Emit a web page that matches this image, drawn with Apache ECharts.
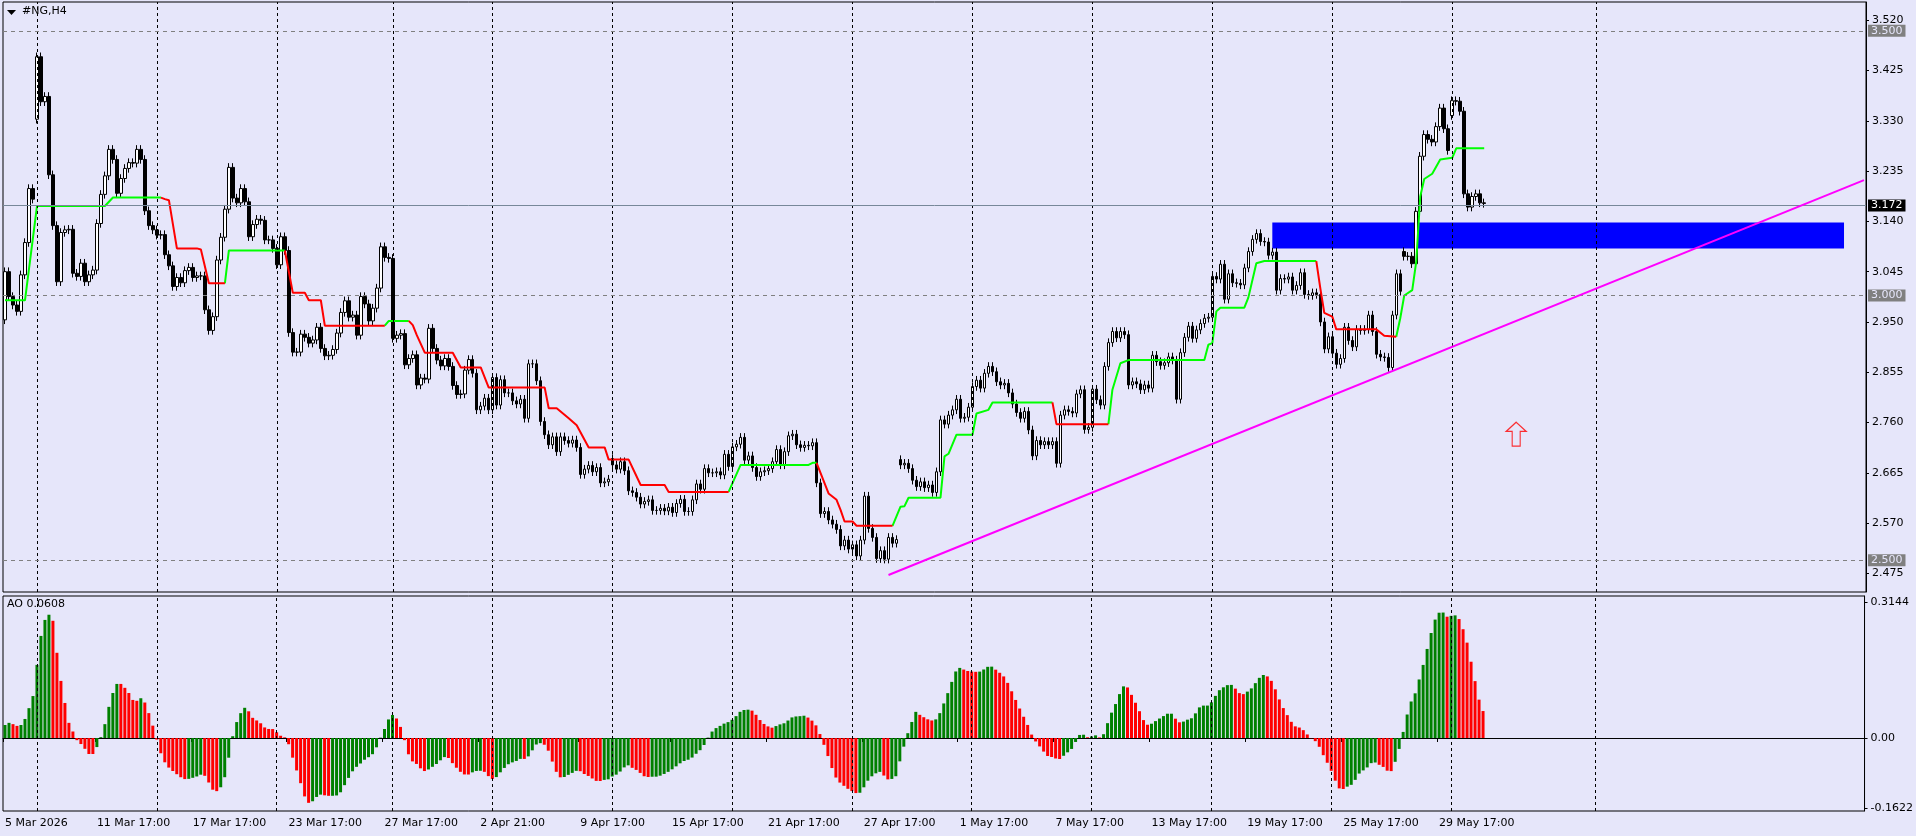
<!DOCTYPE html>
<html><head><meta charset="utf-8">
<script src="https://cdn.jsdelivr.net/npm/echarts@6/dist/echarts.min.js"></script>
<style>html,body{margin:0;padding:0;background:#E6E6FA}#c{width:1916px;height:836px}</style>
</head><body><div id="c"></div>
<script>
const closes = [
3.045,2.998,2.982,2.970,3.039,3.100,3.202,3.182,3.451,3.366,
3.376,3.228,3.132,3.026,3.119,3.124,3.125,3.042,3.036,3.061,
3.026,3.039,3.048,3.136,3.191,3.226,3.276,3.257,3.193,3.221,
3.240,3.251,3.250,3.276,3.257,3.160,3.132,3.124,3.114,3.115,
3.077,3.056,3.017,3.034,3.024,3.047,3.053,3.034,3.037,3.037,
2.973,2.934,2.960,3.067,3.110,3.163,3.242,3.184,3.175,3.202,
3.177,3.111,3.134,3.144,3.142,3.105,3.105,3.089,3.058,3.111,
3.085,2.930,2.893,2.893,2.927,2.921,2.910,2.916,2.940,2.900,
2.886,2.887,2.898,2.929,2.968,2.990,2.959,2.963,2.925,2.998,
2.984,2.952,2.976,3.014,3.092,3.072,3.070,2.919,2.925,2.928,
2.869,2.881,2.888,2.831,2.844,2.842,2.938,2.900,2.878,2.867,
2.881,2.866,2.830,2.813,2.814,2.859,2.879,2.853,2.784,2.791,
2.806,2.784,2.845,2.793,2.841,2.816,2.816,2.801,2.795,2.804,
2.768,2.871,2.871,2.839,2.762,2.737,2.718,2.733,2.705,2.733,
2.726,2.721,2.727,2.713,2.662,2.672,2.679,2.667,2.675,2.646,
2.648,2.653,2.680,2.672,2.686,2.669,2.631,2.628,2.619,2.606,
2.611,2.614,2.594,2.594,2.598,2.593,2.600,2.590,2.607,2.615,
2.592,2.592,2.614,2.644,2.634,2.673,2.665,2.665,2.667,2.661,
2.700,2.677,2.714,2.719,2.732,2.689,2.697,2.675,2.658,2.667,
2.669,2.673,2.686,2.709,2.680,2.705,2.735,2.738,2.718,2.713,
2.717,2.716,2.722,2.646,2.588,2.592,2.576,2.568,2.558,2.527,
2.538,2.521,2.529,2.508,2.538,2.621,2.560,2.543,2.503,2.518,
2.502,2.543,2.532,2.539,2.680,2.683,2.673,2.651,2.639,2.648,
2.637,2.642,2.628,2.667,2.765,2.757,2.774,2.784,2.804,2.768,
2.770,2.789,2.828,2.840,2.825,2.853,2.866,2.856,2.837,2.831,
2.834,2.816,2.795,2.779,2.768,2.781,2.746,2.697,2.726,2.718,
2.724,2.718,2.724,2.683,2.774,2.784,2.781,2.778,2.814,2.822,
2.747,2.751,2.823,2.803,2.793,2.866,2.911,2.932,2.920,2.932,
2.926,2.831,2.837,2.833,2.822,2.831,2.825,2.887,2.875,2.868,
2.873,2.884,2.878,2.804,2.892,2.921,2.942,2.919,2.935,2.947,
2.957,2.959,3.036,3.031,3.059,2.993,3.041,3.024,3.023,3.020,
3.052,3.083,3.106,3.117,3.102,3.101,3.076,3.082,3.010,3.032,
3.031,3.035,3.010,3.019,3.043,3.002,3.000,3.005,3.002,2.950,
2.899,2.922,2.891,2.870,2.881,2.940,2.915,2.903,2.936,2.934,
2.936,2.963,2.932,2.889,2.884,2.883,2.864,2.963,3.041,3.008,
3.074,3.074,3.060,3.159,3.263,3.304,3.295,3.290,3.319,3.354,
3.315,3.274,3.368,3.367,3.348,3.192,3.167,3.187,3.192,3.175,3.174];
const firstOpen = 2.954;
const gapOpens = [[8,3.333],[152,2.692],[224,2.690],[350,3.083],[362,3.340]];
const wick = 0.008;
const aoEarly = [0.030,0.035,0.032,0.028,0.030,0.044,0.069,0.097,0.169,0.236,0.273,0.285,0.271,0.197,0.132,0.081,0.035,0.015,-0.005,-0.014,-0.025,-0.037,-0.037,-0.021,0.002,0.032,0.072,0.104,0.125,0.125,0.116,0.104,0.088,0.086];
const trendGreen = [
 [[0,2.991],[5,2.991],[8,3.169],[25,3.169],[27,3.185],[39,3.185]],
 [[55,3.023],[56,3.085],[70,3.085]],
 [[95,2.943],[96,2.952],[101,2.952]],
 [[181,2.629],[184,2.680],[201,2.680],[202,2.684],[203,2.684]],
 [[222,2.565],[224,2.601],[225,2.602],[226,2.618],[234,2.618],[235,2.696],[236,2.701],[238,2.737],[242,2.737],[243,2.777],[246,2.784],[247,2.798],[262,2.798]],
 [[276,2.757],[277,2.822],[279,2.872],[281,2.878],[300,2.878],[301,2.907],[302,2.910],[303,2.970],[304,2.977],[310,2.977],[311,2.996],[313,3.061],[315,3.065],[328,3.065]],
 [[348,2.922],[349,2.957],[350,3.000],[352,3.010],[353,3.064],[354,3.187],[355,3.220],[357,3.230],[359,3.257],[362,3.260],[363,3.278],[370,3.278]]
];
const trendRed = [
 [[39,3.185],[40,3.182],[41,3.180],[43,3.089],[48,3.089],[49,3.087],[51,3.023],[55,3.023]],
 [[70,3.085],[72,3.005],[75,3.005],[76,2.991],[79,2.991],[80,2.943],[95,2.943]],
 [[101,2.952],[102,2.944],[103,2.925],[105,2.892],[112,2.892],[114,2.864],[119,2.864],[121,2.826],[135,2.826],[136,2.787],[138,2.787],[141,2.768],[143,2.755],[146,2.713],[150,2.713],[151,2.690],[156,2.690],[159,2.642],[165,2.642],[166,2.629],[181,2.629]],
 [[203,2.684],[206,2.626],[208,2.614],[209,2.595],[210,2.573],[212,2.573],[213,2.565],[222,2.565]],
 [[262,2.798],[263,2.757],[276,2.757]],
 [[328,3.065],[329,3.014],[330,2.967],[332,2.960],[333,2.936],[343,2.936],[345,2.924],[348,2.922]]
];
const priceTicks = [3.520,3.425,3.330,3.235,3.140,3.045,2.950,2.855,2.760,2.665,2.570,2.475];
const roundLevels = [3.5,3.0,2.5];
const lastPrice = 3.172;
const aoTicks = [0.3144,0,-0.1622];
const aoTickText = ['0.3144','0.00','-0.1622'];
const timeLabels = [[0,'5 Mar 2026'],[23,'11 Mar 17:00'],[47,'17 Mar 17:00'],[71,'23 Mar 17:00'],[95,'27 Mar 17:00'],[119,'2 Apr 21:00'],[144,'9 Apr 17:00'],[167,'15 Apr 17:00'],[191,'21 Apr 17:00'],[215,'27 Apr 17:00'],[239,'1 May 17:00'],[263,'7 May 17:00'],[287,'13 May 17:00'],[311,'19 May 17:00'],[335,'25 May 17:00'],[359,'29 May 17:00']];
const periodSeparators = [8,38,68,97,122,152,182,212,242,272,302,332,362,398];
const supportLine = [[221,2.472],[465,3.218]];
const zoneBox = [[317,3.138],[460,3.089]];
const arrowPoint = [378,2.738];
const aoLabel = 'AO 0.0608';
const title = '#NG,H4';

const N = 466;
const cats = []; for (let i=0;i<N;i++) cats.push(String(i));
const labelMap = {}; timeLabels.forEach(t=>labelMap[t[0]]=t[1]);
const gapMap = {}; gapOpens.forEach(g=>gapMap[g[0]]=g[1]);
const candles = closes.map((c,i)=>{
  const o = gapMap[i]!==undefined ? gapMap[i] : (i===0?firstOpen:closes[i-1]);
  return [o,c,Math.min(o,c)-wick,Math.max(o,c)+wick];
});
const med = candles.map(k=>(k[2]+k[3])/2);
const ao = closes.map((c,i)=>{
  if (i<aoEarly.length) return aoEarly[i];
  let s5=0,s34=0; for(let j=0;j<5;j++) s5+=med[i-j]; for(let j=0;j<34;j++) s34+=med[i-j];
  return s5/5-s34/34;
});
const aoData = ao.map((v,i)=>({value:v,itemStyle:{color:(i===0||v>ao[i-1])?'#008000':'#FF0000'}}));
const font = 'DejaVu Sans';
const sepLines = periodSeparators.map(x=>({xAxis:x}));
const series = [];
series.push({type:'line',xAxisIndex:0,yAxisIndex:0,data:[],z:1,silent:true,
  markArea:{silent:true,itemStyle:{color:'#0000FF'},data:[[{coord:zoneBox[0]},{coord:zoneBox[1]}]]},
  markLine:{silent:true,symbol:'none',animation:false,data:[
    ...sepLines.map(d=>({...d,lineStyle:{color:'#000',type:[3,3],width:1},label:{show:false}})),
    ...roundLevels.map(v=>({yAxis:v,lineStyle:{color:'#808080',type:[4,4],width:1},label:{show:true,position:'end',distance:2,formatter:v.toFixed(3),backgroundColor:'#808080',color:'#E6E6FA',padding:[1,3,0,3],fontFamily:font,fontSize:11}})),
    {yAxis:lastPrice,lineStyle:{color:'#778899',type:'solid',width:1},label:{show:true,position:'end',distance:2,formatter:lastPrice.toFixed(3),backgroundColor:'#000',color:'#fff',padding:[1,3,0,3],fontFamily:font,fontSize:11}}
  ]}});
series.push({type:'candlestick',xAxisIndex:0,yAxisIndex:0,data:candles,barWidth:3,z:3,
  itemStyle:{color:'#FFFFFF',color0:'#000000',borderColor:'#000000',borderColor0:'#000000',borderWidth:1}});
trendGreen.forEach(seg=>series.push({type:'line',xAxisIndex:0,yAxisIndex:0,data:seg,symbol:'none',z:4,lineStyle:{color:'#00FF00',width:2},silent:true}));
trendRed.forEach(seg=>series.push({type:'line',xAxisIndex:0,yAxisIndex:0,data:seg,symbol:'none',z:4,lineStyle:{color:'#FF0000',width:2},silent:true}));
series.push({type:'line',xAxisIndex:0,yAxisIndex:0,data:supportLine,symbol:'none',z:5,lineStyle:{color:'#FF00FF',width:2},silent:true});
series.push({type:'scatter',xAxisIndex:0,yAxisIndex:0,data:[arrowPoint],z:5,symbol:'path://M10,0 L20,10 L14,10 L14,26 L6,26 L6,10 L0,10 Z',symbolSize:[20,24],itemStyle:{color:'rgba(0,0,0,0)',borderColor:'#FF0000',borderWidth:1.2}});
series.push({type:'bar',xAxisIndex:1,yAxisIndex:1,data:aoData,barWidth:3,z:3,
  markLine:{silent:true,symbol:'none',animation:false,data:sepLines.map(d=>({...d,lineStyle:{color:'#000',type:[3,3],width:1},label:{show:false}}))}});
const chart = echarts.init(document.getElementById('c'));
chart.setOption({
  backgroundColor:'#E6E6FA', animation:false,
  grid:[{left:3,right:50,top:2,height:590,show:true,borderColor:'#000',borderWidth:1},
        {left:3,right:50,top:596,height:215,show:true,borderColor:'#000',borderWidth:1}],
  xAxis:[{type:'category',gridIndex:0,data:cats,boundaryGap:true,axisLine:{show:false},axisTick:{show:false},axisLabel:{show:false},splitLine:{show:false}},
         {type:'category',gridIndex:1,data:cats,boundaryGap:true,axisLine:{show:true,lineStyle:{color:'#000'}},
          axisTick:{show:true,interval:(i)=>labelMap[i]!==undefined,length:4,lineStyle:{color:'#000'}},
          axisLabel:{show:true,interval:(i)=>labelMap[i]!==undefined,formatter:(v,i)=>labelMap[i]||'',align:'left',margin:7,color:'#000',fontFamily:font,fontSize:11},splitLine:{show:false}}],
  yAxis:[{type:'value',gridIndex:0,position:'right',min:2.4399,max:3.5544,scale:true,
          axisLine:{show:true,lineStyle:{color:'#000'}},splitLine:{show:false},
          axisTick:{show:true,length:3,customValues:priceTicks,lineStyle:{color:'#000'}},
          axisLabel:{show:true,customValues:priceTicks,formatter:v=>v.toFixed(3),color:'#000',fontFamily:font,fontSize:11,margin:6}},
         {type:'value',gridIndex:1,position:'right',min:-0.1688,max:0.3283,
          axisLine:{show:true,lineStyle:{color:'#000'}},splitLine:{show:false},
          axisTick:{show:true,length:3,customValues:aoTicks,lineStyle:{color:'#000'}},
          axisLabel:{show:true,customValues:aoTicks,formatter:v=>aoTickText[aoTicks.indexOf(v)]||v,color:'#000',fontFamily:font,fontSize:11,margin:6}}],
  graphic:[
    {type:'polygon',shape:{points:[[7,10],[16,10],[11.5,15]]},style:{fill:'#000'},z:10},
    {type:'text',left:22,top:6,style:{text:title,fill:'#000',font:'11px DejaVu Sans'},z:10},
    {type:'text',left:7,top:599,style:{text:aoLabel,fill:'#000',font:'11px DejaVu Sans'},z:10}
  ],
  series
});
</script></body></html>
